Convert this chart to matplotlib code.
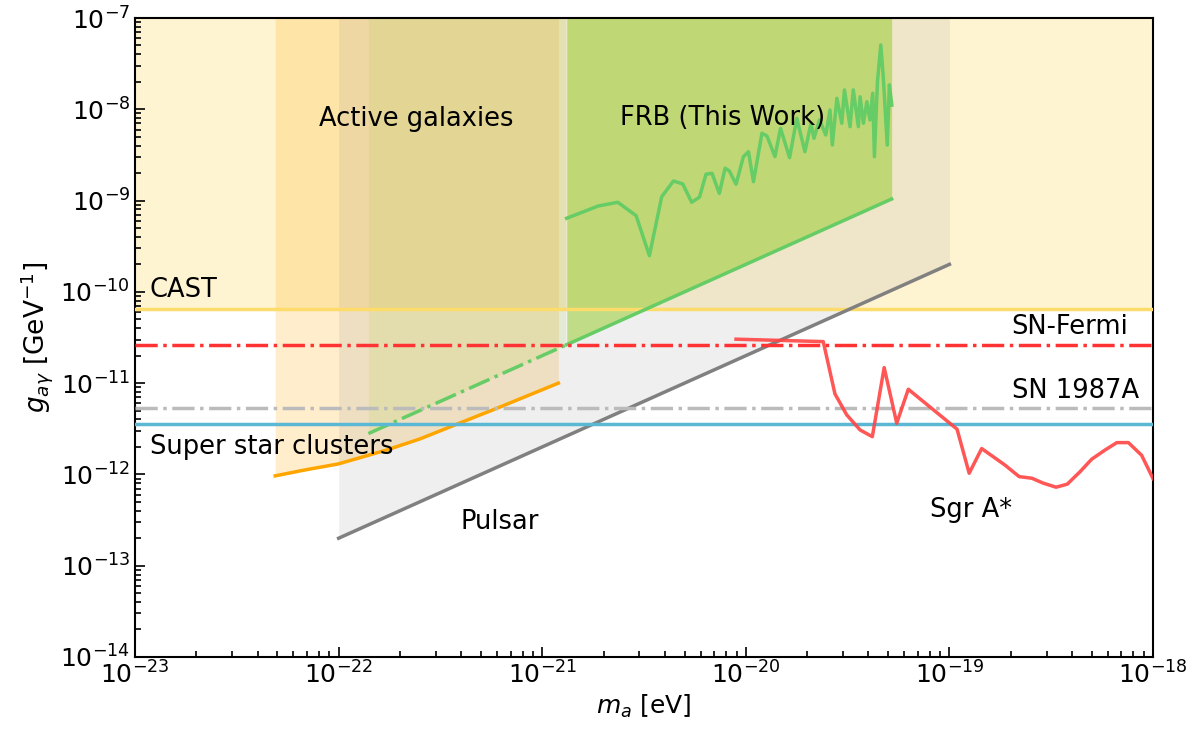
import numpy as np
import matplotlib
matplotlib.use('Agg')
import matplotlib.pyplot as plt

# ---------------- data ----------------
y_top = 1e-7

# CAST and other horizontal bounds
g_cast = 6.5e-11
g_sn_fermi = 2.6e-11
g_sn1987a = 5.3e-12
g_ssc = 3.6e-12

# Active galaxies (orange curve)
agn_m = [4.88e-23, 6.84e-23, 9.93e-23, 1.72e-22, 2.51e-22, 3.52e-22, 6.21e-22, 1.2e-21]
agn_g = [9.64e-13, 1.12e-12, 1.30e-12, 1.85e-12, 2.45e-12, 3.31e-12, 5.48e-12, 1.0e-11]

# Pulsar
pulsar_m = [1e-22, 1e-19]
pulsar_g = [2e-13, 2e-10]

# FRB lower bound (dash-dot part and solid part)
frb_dash_m = [1.4e-22, 1.3e-21]
frb_dash_g = [2.8e-12, 2.6e-11]
frb_low_m = [1.32e-21, 5.2e-20]
frb_low_g = [2.64e-11, 1.04e-9]

# FRB upper wiggly curve
frb_m = [1.318e-21, 1.886e-21, 2.35e-21, 2.89e-21, 3.36e-21, 3.86e-21, 4.41e-21,
         4.90e-21, 5.42e-21, 5.92e-21, 6.37e-21, 6.82e-21, 7.41e-21, 7.91e-21,
         8.30e-21, 8.95e-21, 9.73e-21, 1.03e-20, 1.09e-20, 1.20e-20, 1.27e-20,
         1.39e-20, 1.48e-20, 1.64e-20, 1.78e-20, 1.95e-20, 2.09e-20, 2.16e-20,
         2.30e-20, 2.47e-20, 2.59e-20, 2.66e-20, 2.80e-20, 2.96e-20, 3.05e-20,
         3.25e-20, 3.37e-20, 3.57e-20, 3.64e-20, 3.78e-20, 3.93e-20, 4.07e-20,
         4.20e-20, 4.28e-20, 4.43e-20, 4.60e-20, 4.73e-20, 4.95e-20, 5.07e-20,
         5.21e-20]
frb_g = [6.40e-10, 8.73e-10, 9.58e-10, 6.84e-10, 2.49e-10, 1.10e-9, 1.64e-9,
         1.52e-9, 9.58e-10, 1.09e-9, 1.94e-9, 1.99e-9, 1.20e-9, 2.26e-9,
         2.11e-9, 1.51e-9, 3.03e-9, 3.43e-9, 1.61e-9, 5.46e-9, 5.10e-9,
         3.03e-9, 6.19e-9, 2.95e-9, 7.97e-9, 3.43e-9, 7.03e-9, 4.81e-9,
         7.64e-9, 5.23e-9, 9.82e-9, 4.06e-9, 1.32e-8, 7.03e-9, 1.63e-8,
         6.45e-9, 1.63e-8, 6.45e-9, 1.37e-8, 7.03e-9, 1.21e-8, 7.64e-9,
         1.50e-8, 3.03e-9, 2.00e-8, 5.06e-8, 2.28e-8, 4.06e-9, 1.85e-8,
         1.11e-8]

# Sgr A*
sgr_m = [8.95e-21, 2.40e-20, 2.74e-20, 3.13e-20, 3.64e-20, 4.18e-20, 4.78e-20,
         5.51e-20, 6.28e-20, 1.09e-19, 1.25e-19, 1.44e-19, 1.87e-19, 2.20e-19,
         2.54e-19, 2.89e-19, 3.34e-19, 3.79e-19, 4.38e-19, 5.00e-19, 5.81e-19,
         6.64e-19, 7.57e-19, 8.79e-19, 1.0e-18]
sgr_g = [3.03e-11, 2.85e-11, 7.62e-12, 4.49e-12, 3.07e-12, 2.59e-12, 1.48e-11,
         3.64e-12, 8.57e-12, 3.13e-12, 1.03e-12, 1.92e-12, 1.27e-12, 9.46e-13,
         9.08e-13, 8.02e-13, 7.24e-13, 7.82e-13, 1.07e-12, 1.47e-12, 1.85e-12,
         2.23e-12, 2.23e-12, 1.62e-12, 9.0e-13]

# ---------------- figure ----------------
fig = plt.figure(figsize=(11.93, 7.32), dpi=100)
ax = fig.add_axes([0.1132, 0.1025, 0.8533, 0.8729])
ax.set_xscale('log')
ax.set_yscale('log')
ax.set_xlim(1e-23, 1e-18)
ax.set_ylim(1e-14, 1e-7)

# CAST region
ax.fill_between([1e-23, 1e-18], g_cast, y_top, color='#ffd54f', alpha=0.25, lw=0, zorder=1)
ax.axhline(g_cast, color='#fddc6c', lw=2.5, zorder=5)

# Active galaxies region
ax.fill_between(agn_m, agn_g, y_top, color='orange', alpha=0.2, lw=0, zorder=1)
ax.plot(agn_m, agn_g, color='orange', lw=2.5, zorder=6)

# Pulsar region
ax.fill_between(pulsar_m, pulsar_g, y_top, color='grey', alpha=0.12, lw=0, zorder=1)
ax.plot(pulsar_m, pulsar_g, color='grey', lw=2.5, zorder=6)

# FRB regions
ax.fill_between(frb_dash_m, frb_dash_g, y_top, color='yellowgreen', alpha=0.14, lw=0, zorder=2)
ax.fill_between(frb_low_m, frb_low_g, y_top, color='yellowgreen', alpha=0.55, lw=0, zorder=2)
ax.plot(frb_dash_m, frb_dash_g, color='#66cc66', lw=2.5, ls='-.', zorder=6)
ax.plot(frb_low_m, frb_low_g, color='#66cc66', lw=2.5, zorder=6)
ax.plot(frb_m, frb_g, color='#66cc66', lw=2.5, zorder=6)

# horizontal bounds
ax.axhline(g_sn_fermi, color='#ff3333', lw=2.5, ls='-.', zorder=6)
ax.axhline(g_sn1987a, color='#bbbbbb', lw=2.5, ls='-.', zorder=6)
ax.axhline(g_ssc, color='#5bb8d4', lw=2.5, zorder=6)

# Sgr A*
ax.plot(sgr_m, sgr_g, color='#ff4444', lw=2.5, alpha=0.9, zorder=7)

# labels
fs = 18.5
ax.text(2.4e-22, 7.8e-9, 'Active galaxies', fontsize=fs, ha='center', va='center', zorder=10)
ax.text(7.7e-21, 8e-9, 'FRB (This Work)', fontsize=fs, ha='center', va='center', zorder=10)
ax.text(1.18e-23, 1.05e-10, 'CAST', fontsize=fs, ha='left', va='center', zorder=10)
ax.text(2.02e-19, 4.1e-11, 'SN-Fermi', fontsize=fs, ha='left', va='center', zorder=10)
ax.text(2.02e-19, 8.2e-12, 'SN 1987A', fontsize=fs, ha='left', va='center', zorder=10)
ax.text(8.0e-20, 4.1e-13, 'Sgr A*', fontsize=fs, ha='left', va='center', zorder=10)
ax.text(1.19e-23, 2.0e-12, 'Super star clusters', fontsize=fs, ha='left', va='center', zorder=10)
ax.text(6.2e-22, 3.0e-13, 'Pulsar', fontsize=fs, ha='center', va='center', zorder=10)

ax.set_xlabel(r'$m_a$ [eV]', fontsize=18, labelpad=3)
ax.set_ylabel(r'$g_{a\gamma}$ [GeV$^{-1}$]', fontsize=19, labelpad=4)

ax.xaxis.set_major_locator(matplotlib.ticker.LogLocator(base=10, numticks=10))
ax.yaxis.set_major_locator(matplotlib.ticker.LogLocator(base=10, numticks=10))
ax.xaxis.set_minor_locator(matplotlib.ticker.LogLocator(base=10, subs=np.arange(2, 10), numticks=20))
ax.yaxis.set_minor_locator(matplotlib.ticker.LogLocator(base=10, subs=np.arange(2, 10), numticks=20))
ax.tick_params(which='both', direction='in', labelsize=18, width=1.2)
ax.tick_params(which='major', length=7)
ax.tick_params(which='minor', length=4)
for s in ax.spines.values():
    s.set_linewidth(1.5)

fig.savefig('out.png', dpi=100)
